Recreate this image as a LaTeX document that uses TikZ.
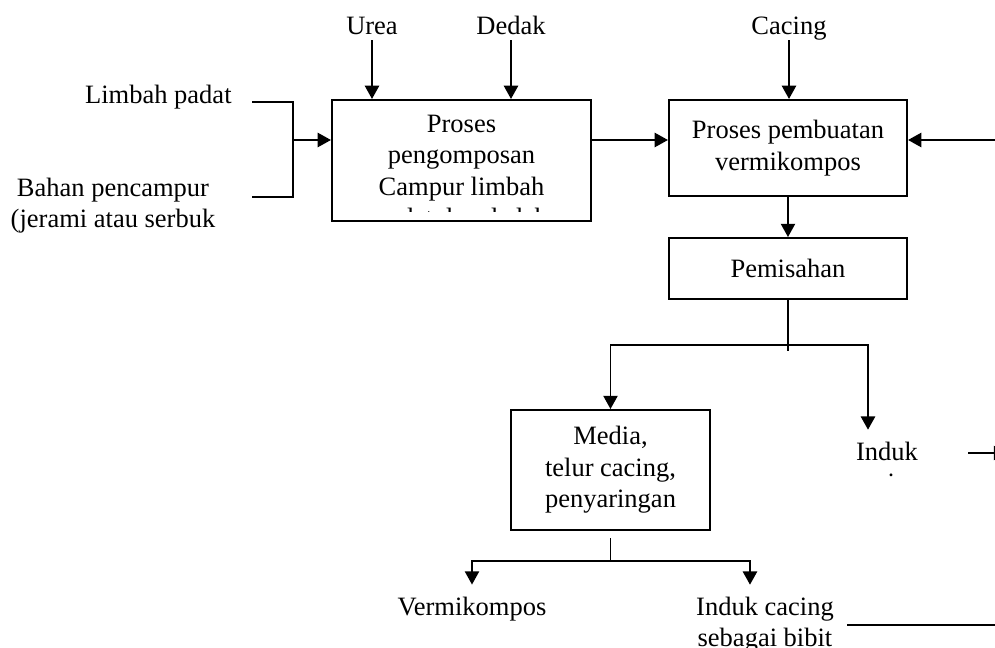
\documentclass[tikz,border=0pt]{standalone}
\usepackage{fontspec}
\setmainfont{Liberation Serif}
\usepackage{tikz}
\usetikzlibrary{arrows.meta}

\begin{document}
\begin{tikzpicture}[x=0.4528pt, y=-0.4528pt,
    font=\fontsize{12}{14.2}\selectfont,
    line width=0.9pt,
    kotak/.style={draw, inner sep=0pt, align=center},
    ket/.style={inner sep=2pt, text depth=0pt},
    hasil/.style={inner sep=5pt},
    panah/.style={-{Triangle[length=6pt, width=6.4pt]}}]
    \useasboundingbox (0,0) rectangle (995,648);

    % bahan masuk
    \node[ket, anchor=base east] (limbah) at (237,104) {Limbah padat};
    \node[align=center] (bahan) at (113,205.5) {Bahan pencampur\\(jerami atau serbuk};
    \node[ket, anchor=base] (urea) at (372,35) {Urea};
    \node[ket, anchor=base] (dedak) at (511,35) {Dedak};
    \node[ket, anchor=base] (cacing) at (789,35) {Cacing};

    % proses
    \node[kotak, minimum width=117.3pt, minimum height=54.8pt] (kompos) at (461.5,160.5) {};
    \begin{scope}
        \clip (332,100) rectangle (591,212);
        \node[align=center] (komposteks) at (461.5,173.6) {Proses\\pengomposan\\Campur limbah\\padat dan dedak};
    \end{scope}
    \node[kotak, minimum width=107.8pt, minimum height=43.5pt] (vermi) at (788,148) {Proses pembuatan\\vermikompos};
    \node[kotak, minimum width=107.8pt, minimum height=27.6pt] (pisah) at (788,268.5) {Pemisahan};
    \node[kotak, minimum width=90.1pt, minimum height=54.3pt] (saring) at (610.5,470) {Media,\\telur cacing,\\penyaringan};

    % hasil
    \begin{scope}
        \clip (840,420) rectangle (940,476);
        \node[hasil, align=center] (induk) at (887,469.5) {Induk\\cacing};
    \end{scope}
    \node[hasil, anchor=base] (vkompos) at (472,615) {Vermikompos};
    \node[hasil, align=center] (bibit) at (765,624.5) {Induk cacing\\sebagai bibit};

    \coordinate (lp1) at (252,102);
    \coordinate (lp2) at (293,102);
    \coordinate (bp1) at (252,197);
    \coordinate (bp2) at (293,197);
    \coordinate (gabung) at (293,140);
    \coordinate (alur) at (0,140);
    \coordinate (balik) at (1002,140);
    \coordinate (cabang) at (788,345);
    \coordinate (cabang2) at (610.5,561);
    \coordinate (sisa1) at (968,453);
    \coordinate (sisa2) at (1007,453);
    \coordinate (bawah1) at (847,625);
    \coordinate (bawah2) at (1000,625);

    \draw (lp1) -- (lp2) -- (bp2) -- (bp1);
    \draw[panah] (gabung) -- (gabung -| kompos.west);
    \draw[panah] (urea.south) -- (urea.south |- kompos.north);
    \draw[panah] (dedak.south) -- (dedak.south |- kompos.north);
    \draw[panah] (cacing.south) -- (cacing.south |- vermi.north);
    \draw[panah] (kompos.east |- alur) -- (vermi.west |- alur);
    \draw[panah] (balik) -- (balik -| vermi.east);
    \draw[panah] (vermi.south) -- (pisah.north);

    \draw (pisah.south) -- ([yshift=-2.7pt]cabang);
    \draw[panah] (cabang) -| (saring.north);
    \draw[panah] (cabang) -| ([xshift=-8.6pt]induk.north);
    \draw ([yshift=-3.2pt]saring.south) -- (cabang2);
    \draw[panah] (cabang2) -| (vkompos.north);
    \draw[panah] (cabang2) -| ([xshift=-6.8pt]bibit.north);

    \draw[panah] (sisa1) -- (sisa2);
    \draw (bawah1) -- (bawah2);
\end{tikzpicture}
\end{document}
